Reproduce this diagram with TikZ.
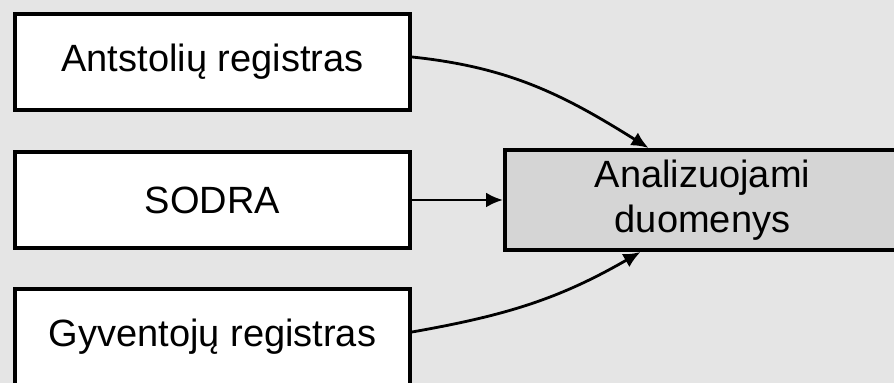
\documentclass[tikz,border=0pt]{standalone}
\usepackage{fontspec}
\setmainfont{Liberation Sans}
\usetikzlibrary{arrows.meta}
\begin{document}
\begin{tikzpicture}[x=1pt,y=1pt,
  src/.style={draw,line width=2pt,fill=white,minimum width=197.5pt,minimum height=48pt,inner sep=0pt,font=\fontsize{19}{22.5}\selectfont},
  dst/.style={src,fill=gray!33,minimum height=50pt,align=center},
  flow/.style={line width=1.4pt,-{Latex[length=8.5pt,width=7.5pt]}}]
\path [use as bounding box,fill=gray!20] (0,0) rectangle (447,-191.5);
%sources
\node [src] (antstoliai) at (106.25,-31) {Antstolių registras};
\node [src] (sodra) at (106.25,-100) {SODRA};
\node [src] (gyventojai) at (106.25,-168.5) {Gyventojų registras};
%target
\node [dst] (duomenys) at (351.25,-100) {Analizuojami\\duomenys};
%arrows
\draw [flow] ([yshift=2.5pt]antstoliai.east) to [out=-6,in=148] ([xshift=-27pt]duomenys.north);
\draw [flow] (sodra) -- (duomenys);
\draw [flow] ([yshift=2.5pt]gyventojai.east) to [out=10,in=210] ([xshift=-31pt]duomenys.south);
\end{tikzpicture}
\end{document}
